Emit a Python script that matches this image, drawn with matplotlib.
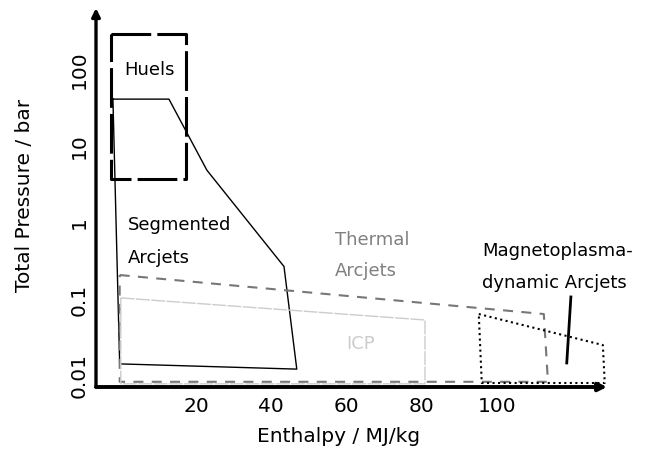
import numpy as np
import matplotlib.pyplot as plt

# region outlines (enthalpy MJ/kg, pressure bar)
huels_h = [-2.7, 17.3, 17.3, -2.7, -2.7]
huels_p = [300, 300, 3.8, 3.8, 300]

seg_h = [-2.1, 12.8, 22.9, 43.4, 46.8, -0.3, -2.1]
seg_p = [41.7, 41.7, 4.9, 0.27, 0.0123, 0.0144, 41.7]

thermal_h = [-0.3, 112.5, 113.6, -0.3, -0.3]
thermal_p = [0.209, 0.0646, 0.0084, 0.0084, 0.209]

icp_h = [0.0, 80.9, 80.9, 0.0, 0.0]
icp_p = [0.105, 0.054, 0.0079, 0.0079, 0.105]

mpd_h = [95.2, 128.2, 128.7, 96.0, 95.2]
mpd_p = [0.0646, 0.0254, 0.0081, 0.0081, 0.0646]

mpd_pointer_h = [119.7, 118.6]
mpd_pointer_p = [0.108, 0.0148]

xticks = [20, 40, 60, 80, 100]
yticks = [0.01, 0.1, 1, 10, 100]
ylabels = ['0.01', '0.1', '1', '10', '100']

fig = plt.figure(figsize=(6.46, 4.5), dpi=100)
ax = fig.add_axes([0.1486, 0.14, 0.791, 0.842])
ax.set_yscale('log')
ax.set_xlim(-6.6, 129.3)
ax.set_ylim(0.00718, 646)

ax.plot(huels_h, huels_p, color='black', lw=2.2, linestyle=(0, (13, 2)))
ax.plot(seg_h, seg_p, color='black', lw=1.0)
ax.plot(thermal_h, thermal_p, color='#777777', lw=1.5, linestyle=(0, (4.8, 4)))
ax.plot(icp_h, icp_p, color='#cccccc', lw=1.0, linestyle=(0, (10, 1)))
ax.plot(mpd_h, mpd_p, color='black', lw=1.5, linestyle=':')
ax.plot(mpd_pointer_h, mpd_pointer_p, color='black', lw=2.0)

fs = 13
ax.text(7.7, 100, 'Huels', fontsize=fs, ha='center', va='center')
ax.text(1.9, 0.94, 'Segmented', fontsize=fs, ha='left', va='center')
ax.text(1.9, 0.35, 'Arcjets', fontsize=fs, ha='left', va='center')
ax.text(56.9, 0.60, 'Thermal', fontsize=fs, ha='left', va='center', color='#808080')
ax.text(56.9, 0.236, 'Arcjets', fontsize=fs, ha='left', va='center', color='#808080')
ax.text(63.8, 0.026, 'ICP', fontsize=fs, ha='center', va='center', color='#cccccc')
ax.text(96, 0.43, 'Magnetoplasma-', fontsize=fs, ha='left', va='center')
ax.text(96, 0.164, 'dynamic Arcjets', fontsize=fs, ha='left', va='center')

for s in ax.spines.values():
    s.set_visible(False)
ax.annotate('', xy=(0, 1), xytext=(0, 0), xycoords='axes fraction',
            arrowprops=dict(arrowstyle='-|>', lw=2.4, color='black',
                            shrinkA=0, shrinkB=0, mutation_scale=12))
ax.annotate('', xy=(1, 0), xytext=(0, 0), xycoords='axes fraction',
            arrowprops=dict(arrowstyle='-|>', lw=2.8, color='black',
                            shrinkA=0, shrinkB=0, mutation_scale=12))

tfs = 14.5
ax.set_xticks(xticks)
ax.set_xticklabels([str(t) for t in xticks])
ax.set_yticks(yticks)
ax.set_yticklabels(ylabels)
ax.minorticks_off()
ax.tick_params(axis='both', length=0, labelsize=tfs)
ax.tick_params(axis='x', pad=7)
ax.tick_params(axis='y', pad=5)
for t in ax.get_yticklabels():
    t.set_rotation(90)
    t.set_va('center')

fig.text(25 / 646, 1 - 195 / 450, 'Total Pressure / bar', rotation=90,
         fontsize=tfs, ha='center', va='center')
fig.text(339 / 646, 1 - 437 / 450, 'Enthalpy / MJ/kg', fontsize=tfs,
         ha='center', va='center')

fig.savefig('out.png', dpi=100)
